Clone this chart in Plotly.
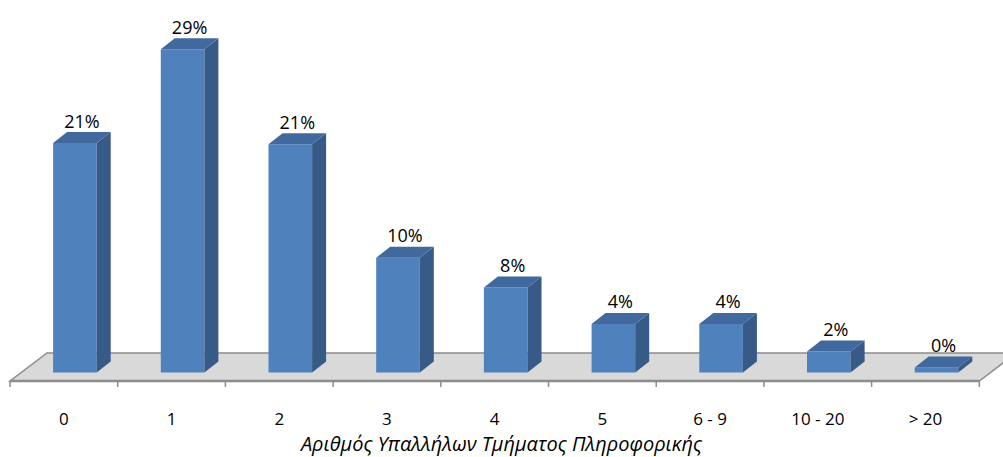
import plotly.graph_objects as go

# Share of organisations by size of their IT department (percent)
categories = ["0", "1", "2", "3", "4", "5", "6 - 9", "10 - 20", "> 20"]
shares = [20.8, 29.3, 20.7, 10.4, 7.7, 4.4, 4.4, 1.9, 0.45]
axis_title = "Αριθμός Υπαλλήλων Τμήματος Πληροφορικής"

# Pseudo-3D geometry, in axis units (x: one unit per category, y: percent)
BAR_LEFT = 0.40      # front face left edge, offset within category slot
BAR_W = 0.405        # front face width
DEPTH_X = 0.13       # oblique depth of a bar, horizontal
DEPTH_Y = 1.0        # oblique depth of a bar, vertical
FLOOR_FRONT = -0.77
FLOOR_BACK = 1.77
FLOOR_DX = 0.3436
TICK_LOW = -1.31

FRONT = "#4f81bd"
SIDE = "#375a87"
TOP = "#41699e"
FLOOR_FILL = "#d9d9d9"
FLOOR_EDGE = "#8c8c8c"
FONT = "Open Sans"

n = len(categories)
fig = go.Figure()

# floor plate, drawn beneath all traces
floor_path = (f"M 0 {FLOOR_FRONT} L {n} {FLOOR_FRONT} "
              f"L {n + FLOOR_DX} {FLOOR_BACK} L {FLOOR_DX} {FLOOR_BACK} Z")
fig.add_shape(type="path", path=floor_path, xref="x", yref="y",
              fillcolor=FLOOR_FILL, line=dict(color=FLOOR_EDGE, width=1.5),
              layer="below")
fig.add_shape(type="line", xref="x", yref="y", x0=0, x1=n,
              y0=FLOOR_FRONT, y1=FLOOR_FRONT,
              line=dict(color=FLOOR_EDGE, width=2.5), layer="below")
# category separator ticks
for i in range(n + 1):
    fig.add_shape(type="line", xref="x", yref="y", x0=i, x1=i,
                  y0=FLOOR_FRONT, y1=TICK_LOW,
                  line=dict(color=FLOOR_EDGE, width=1.5), layer="below")

# front faces of the bars
centers = [i + BAR_LEFT + BAR_W / 2 for i in range(n)]
fig.add_trace(go.Bar(x=centers, y=shares, width=BAR_W,
                     marker=dict(color=FRONT, line=dict(width=0)),
                     hoverinfo="skip", showlegend=False))

# side and top faces
sx, sy, px, py = [], [], [], []
for i, v in enumerate(shares):
    x0 = i + BAR_LEFT
    x1 = x0 + BAR_W
    sx += [x1, x1 + DEPTH_X, x1 + DEPTH_X, x1, x1, None]
    sy += [0, DEPTH_Y, v + DEPTH_Y, v, 0, None]
    px += [x0, x1, x1 + DEPTH_X, x0 + DEPTH_X, x0, None]
    py += [v, v, v + DEPTH_Y, v + DEPTH_Y, v, None]
fig.add_trace(go.Scatter(x=sx, y=sy, mode="lines", fill="toself",
                         fillcolor=SIDE, line=dict(width=0, color=SIDE),
                         hoverinfo="skip", showlegend=False))
fig.add_trace(go.Scatter(x=px, y=py, mode="lines", fill="toself",
                         fillcolor=TOP, line=dict(width=0, color=TOP),
                         hoverinfo="skip", showlegend=False))

# value labels above each bar
fig.add_trace(go.Scatter(
    x=[c + DEPTH_X / 2 for c in centers],
    y=[v + DEPTH_Y for v in shares],
    mode="text",
    text=[f"{round(v)}%" for v in shares],
    textposition="top center",
    textfont=dict(family=FONT, size=18, color="#000000"),
    hoverinfo="skip", showlegend=False))

fig.update_layout(
    width=1003, height=457,
    margin=dict(l=0, r=0, t=0, b=57),
    paper_bgcolor="white", plot_bgcolor="white",
    showlegend=False,
    font=dict(family=FONT, size=18, color="#000000"),
    xaxis=dict(range=[-0.0929, 9.220], showgrid=False, zeroline=False,
               showline=False, ticks="", ticklabelstandoff=7,
               tickvals=[i + 0.5 for i in range(n)], ticktext=categories,
               tickfont=dict(family=FONT, size=17, color="#000000"),
               title=dict(text=axis_title, standoff=11,
                          font=dict(family=FONT, size=20, color="#000000",
                                    style="italic")),
               fixedrange=True),
    yaxis=dict(range=[-2.493, 33.77], visible=False, fixedrange=True),
)

fig.write_html("out.html")
